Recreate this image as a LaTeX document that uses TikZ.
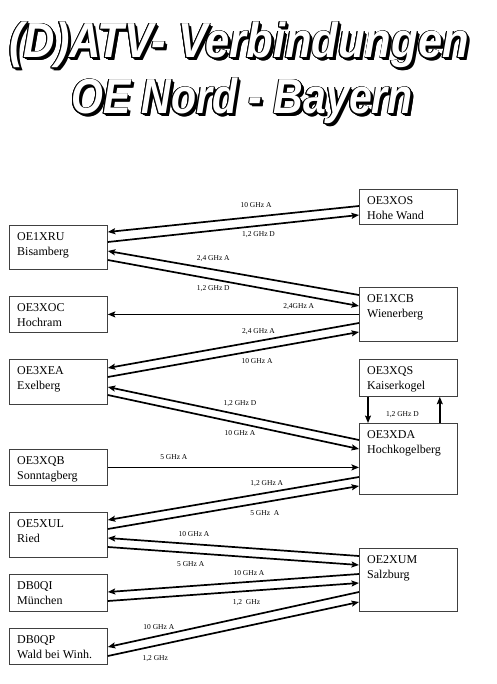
\documentclass[tikz,border=0pt]{standalone}
\usepackage{fontspec}
\setmainfont{Liberation Serif}
\newfontfamily\titlefont{Liberation Sans}
\usetikzlibrary{arrows.meta,calc}

\tikzset{
  station/.style={draw=black!75, line width=0.8pt, minimum width=98pt, inner sep=0pt, anchor=north west},
  stationtext/.style={anchor=north west, align=left, inner xsep=8pt, inner ysep=7pt, font=\fontsize{12}{15}\selectfont},
  link/.style={line width=1.7pt, -{Stealth[length=7.5pt,width=6pt,inset=1.5pt]}},
  freq/.style={font=\fontsize{7.5}{9}\selectfont, inner sep=0pt, text height=5pt, text depth=0pt},
  titletext/.style={font=\titlefont\bfseries\itshape\fontsize{41}{41}\selectfont, inner sep=0pt, anchor=base},
}

\begin{document}
\begin{tikzpicture}[x=1pt, y=-1pt]
    \useasboundingbox (0,0) rectangle (496,684);

    % title: shadow, outline, white letters
    \foreach \txt/\xx/\yy/\xs in {{(D)ATV- Verbindungen}/239/58/1.06, {OE Nord - Bayern}/242/114/1.0} {
        \foreach \s in {0.6,1.2,1.8,2.4,3}
            \node[titletext, text=black, shift={(\s pt,-\s pt)}] at (\xx,\yy) {\scalebox{\xs}[1.2]{\txt}};
        \foreach \a in {0,30,...,330}
            \node[titletext, text=black, shift={(\a:0.9pt)}] at (\xx,\yy) {\scalebox{\xs}[1.2]{\txt}};
        \node[titletext, text=white] (title) at (\xx,\yy) {\scalebox{\xs}[1.2]{\txt}};
    }

    % left column
    \node[station, minimum height=44pt, label={[stationtext]north west:{OE1XRU\\Bisamberg}}] (xru) at (9,225) {};
    \node[station, minimum height=36pt, label={[stationtext]north west:{OE3XOC\\Hochram}}] (xoc) at (9,296) {};
    \node[station, minimum height=45pt, label={[stationtext]north west:{OE3XEA\\Exelberg}}] (xea) at (9,359) {};
    \node[station, minimum height=36pt, label={[stationtext]north west:{OE3XQB\\Sonntagberg}}] (xqb) at (9,449) {};
    \node[station, minimum height=45pt, label={[stationtext]north west:{OE5XUL\\Ried}}] (xul) at (9,512) {};
    \node[station, minimum height=37pt, label={[stationtext]north west:{DB0QI\\München}}] (dbqi) at (9,574) {};
    \node[station, minimum height=36pt, label={[stationtext]north west:{DB0QP\\Wald bei Winh.}}] (dbqp) at (9,628) {};

    % right column
    \node[station, minimum height=35pt, label={[stationtext]north west:{OE3XOS\\Hohe Wand}}] (xos) at (359,189) {};
    \node[station, minimum height=54pt, label={[stationtext]north west:{OE1XCB\\Wienerberg}}] (xcb) at (359,287) {};
    \node[station, minimum height=37pt, label={[stationtext]north west:{OE3XQS\\Kaiserkogel}}] (xqs) at (359,359) {};
    \node[station, minimum height=71pt, label={[stationtext]north west:{OE3XDA\\Hochkogelberg}}] (xda) at (359,423) {};
    \node[station, minimum height=63pt, label={[stationtext]north west:{OE2XUM\\Salzburg}}] (xum) at (359,548) {};

    % links
    \draw[link] ($(xos.north west)+(0,17)$) -- ($(xru.north east)+(0,7)$) node[freq, pos=.41, above=8pt] {10 GHz A};
    \draw[link] ($(xru.north east)+(0,17)$) -- ($(xos.north west)+(0,26)$) node[freq, pos=.6, below=4.5pt] {1,2 GHz D};

    \draw[link] ($(xcb.north west)+(0,8)$) -- ($(xru.north east)+(0,26)$) node[freq, pos=.58, above=8pt] {2,4 GHz A};
    \draw[link] ($(xru.north east)+(0,35)$) -- ($(xcb.north west)+(0,19)$) node[freq, pos=.42, below=5pt] {1,2 GHz D};

    \draw[link] (xcb.west |- xoc.east) -- (xoc.east) node[freq, pos=.24, above=5pt] {2,4GHz A};

    \draw[link] ($(xcb.north west)+(0,36)$) -- ($(xea.north east)+(0,9)$) node[freq, pos=.4, above=6.5pt] {2,4 GHz A};
    \draw[link] ($(xea.north east)+(0,18)$) -- ($(xcb.north west)+(0,45)$) node[freq, pos=.594, below=7pt] {10 GHz A};

    \draw[link] ($(xda.north west)+(0,17)$) -- ($(xea.north east)+(0,28)$) node[freq, pos=.474, above=8.5pt] {1,2 GHz D};
    \draw[link] ($(xea.north east)+(0,36)$) -- ($(xda.north west)+(0,26)$) node[freq, pos=.526, below=6pt] {10 GHz A};

    \draw[link] ($(xqs.south west)+(9,0)$) -- ($(xda.north west)+(9,0)$);
    \draw[link] ($(xda.north east)+(-18,0)$) -- ($(xqs.south east)+(-18,0)$);
    \node[freq] (qsda) at ($(xqs.south)!.5!(xda.north)+(-6,4)$) {1,2 GHz D};

    \draw[link] (xqb.east) -- (xda.west |- xqb.east) node[freq, pos=.263, above=7pt] {5 GHz A};

    \draw[link] ($(xda.north west)+(0,54)$) -- ($(xul.north east)+(0,8)$) node[freq, pos=.367, above=6pt] {1,2 GHz A};
    \draw[link] ($(xul.north east)+(0,17)$) -- ($(xda.north west)+(0,63)$) node[freq, pos=.625, below=7.5pt] {5 GHz~~A};

    \draw[link] ($(xum.north west)+(0,8)$) -- ($(xul.north east)+(0,26)$) node[freq, pos=.657, above=7pt] {10 GHz A};
    \draw[link] ($(xul.north east)+(0,35)$) -- ($(xum.north west)+(0,17)$) node[freq, pos=.33, below=7.5pt] {5 GHz A};

    \draw[link] ($(xum.north west)+(0,26)$) -- ($(dbqi.north east)+(0,18)$) node[freq, pos=.438, above=5.7pt] {10 GHz A};
    \draw[link] ($(dbqi.north east)+(0,27)$) -- ($(xum.north west)+(0,35)$) node[freq, pos=.552, below=8pt] {1,2~~GHz};

    \draw[link] ($(xum.north west)+(0,44)$) -- ($(dbqp.north east)+(0,19)$) node[freq, pos=.797, above=5pt] {10 GHz A};
    \draw[link] ($(dbqp.north east)+(0,28)$) -- ($(xum.north west)+(0,54)$) node[freq, pos=.189, below=8.5pt] {1,2 GHz};
\end{tikzpicture}
\end{document}
